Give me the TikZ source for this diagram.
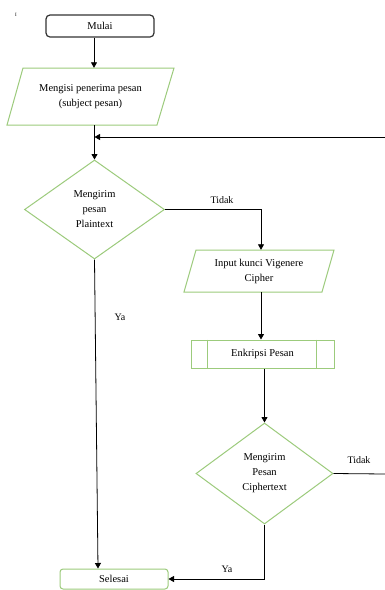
\documentclass[tikz,border=0pt]{standalone}
\usepackage{fontspec}
\setmainfont{Liberation Serif}
\usetikzlibrary{shapes.geometric,arrows.meta}
\definecolor{bgreen}{HTML}{9CCB7C}
\begin{document}
\begin{tikzpicture}[x=1pt,y=-1pt,
  txt/.style={font=\fontsize{10.5}{15}\selectfont, align=center},
  lbl/.style={font=\fontsize{10}{12}\selectfont, inner sep=0},
  ln/.style={line width=0.8pt, black},
  arr/.style={ln, -{Triangle[width=6pt,length=5.5pt]}},
  gbord/.style={draw=bgreen, line width=1pt},
  dec/.style={gbord, diamond, inner sep=0, txt}]
\useasboundingbox (0,0) rectangle (385,590);
\fill[white] (0,0) rectangle (385,590);

\node[lbl, font=\fontsize{5}{5}\selectfont] (tick) at (16,15) {I};

\node[draw=black!80, line width=1.2pt, rounded corners=4pt, minimum width=108pt, minimum height=22pt, inner sep=0, txt] (m) at (100,26) {Mulai};

% parallelogram 1
\draw[gbord] (23,68) -- (174,68) -- (157,125) -- (7,125) -- cycle;
\node[txt, minimum width=150pt, minimum height=57pt, inner sep=0] (p1) at (90.5,96.5) {Mengisi penerima pesan\\(subject pesan)};

\coordinate (spine) at (94,0);
\draw[arr] (m.south -| spine) -- (p1.north -| spine);

\node[dec, minimum width=140pt, minimum height=99pt] (d1) at (94.5,209.5) {Mengirim\\pesan\\Plaintext};
\draw[arr] (p1.south -| d1.north) -- (d1.north);
\coordinate (rt1) at (385,137);
\draw[arr] (rt1) -- (rt1 -| d1.north);

% parallelogram 2
\draw[gbord] (196,250) -- (334,250) -- (322,292) -- (184,292) -- cycle;
\node[txt, minimum width=138pt, minimum height=42pt, inner sep=0] (p2) at (259,271) {Input kunci Vigenere\\Cipher};
\coordinate (c2) at (261,0);
\draw[arr] (d1.east) -- (d1.east -| c2) -- (p2.north -| c2);
\node[lbl] (t1) at (222,200) {Tidak};

\node[gbord, rectangle, minimum width=143pt, minimum height=28pt, inner sep=0, txt] (e) at (262.5,354) {Enkripsi Pesan};
\draw[gbord] ([xshift=17pt]e.north west) -- ([xshift=17pt]e.south west);
\draw[gbord] ([xshift=-18pt]e.north east) -- ([xshift=-18pt]e.south east);
\draw[arr] (p2.south -| c2) -- (e.north -| c2);

\node[dec, minimum width=137pt, minimum height=101pt] (d2) at (264.5,473.5) {Mengirim\\Pesan\\Ciphertext};
\draw[arr] (e.south -| d2.north) -- (d2.north);

\coordinate (rt2) at (385,474);
\draw[ln] (d2.east) -- (rt2);
\node[lbl] (t2) at (359,460) {Tidak};

\node[gbord, rounded corners=3pt, minimum width=108pt, minimum height=20pt, inner sep=0, txt] (s) at (114,579) {Selesai};
\draw[arr] (d2.south) -- (d2.south |- s.east) -- (s.east);
\node[lbl] (y2) at (227,569) {Ya};

\draw[arr] (d1.south) -- ([xshift=-16pt]s.north);
\node[lbl] (y1) at (120,317) {Ya};
\end{tikzpicture}
\end{document}
